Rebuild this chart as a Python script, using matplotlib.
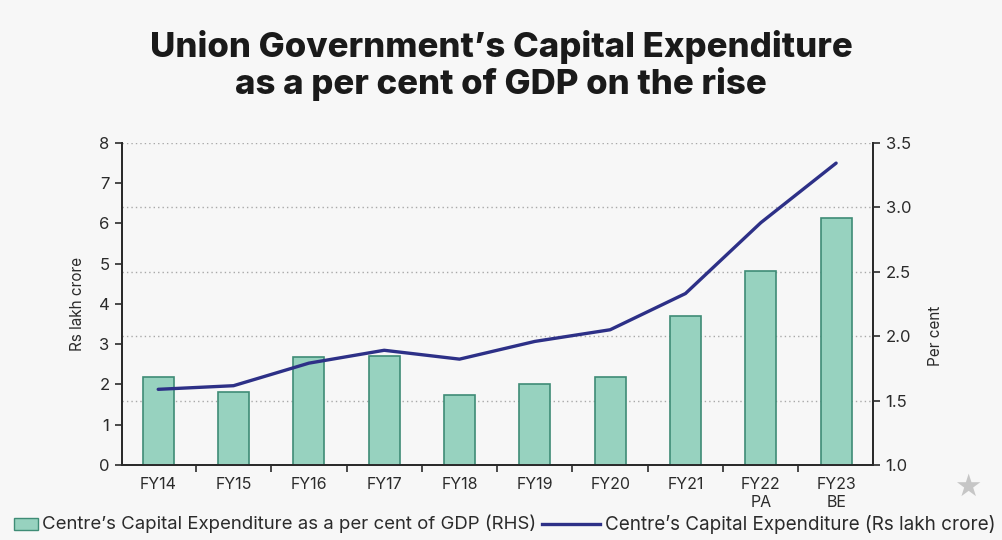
import matplotlib
matplotlib.use("Agg")
import matplotlib.pyplot as plt
from matplotlib.patches import Rectangle
from matplotlib.lines import Line2D
import numpy as np

# Financial years
years = ["FY14", "FY15", "FY16", "FY17", "FY18", "FY19", "FY20", "FY21", "FY22\nPA", "FY23\nBE"]
# Centre's capital expenditure as a per cent of GDP (RHS)
capex_pct_gdp = [1.68, 1.57, 1.84, 1.85, 1.54, 1.63, 1.68, 2.16, 2.51, 2.92]
# Centre's capital expenditure (Rs lakh crore)
capex_lakh_crore = [1.88, 1.97, 2.53, 2.85, 2.63, 3.07, 3.36, 4.26, 6.02, 7.50]

left_ticks = [0, 1, 2, 3, 4, 5, 6, 7, 8]
right_ticks = [1.0, 1.5, 2.0, 2.5, 3.0, 3.5]

BG = "#f7f7f7"
BAR_FILL = "#97d2bf"
BAR_EDGE = "#3f8c76"
LINE_COL = "#2d3087"
AXIS_COL = "#2b2b2b"
TEXT_COL = "#2b2b2b"
FONT = "Inter"

plt.rcParams["font.family"] = [FONT, "DejaVu Sans"]

fig = plt.figure(figsize=(10.02, 5.40), dpi=100, facecolor=BG)
ax = fig.add_axes([0.1218, 0.1389, 0.7495, 0.5963])
ax.set_facecolor(BG)
x = np.arange(len(years))

# Bars on the per-cent scale (right-hand axis)
ax.bar(x, capex_pct_gdp, width=0.41, bottom=0, color=BAR_FILL,
       edgecolor=BAR_EDGE, linewidth=1.2, zorder=3)
ax.set_ylim(1.0, 3.5)
ax.set_xlim(-0.48, len(years) - 0.51)
for yv in right_ticks[1:]:
    ax.axhline(yv, color="#a9a9a9", linestyle=(0, (1, 2.2)), linewidth=1.0, zorder=1)

# Line on the Rs lakh crore scale (left-hand axis)
ax2 = ax.twinx()
ax2.plot(x, capex_lakh_crore, color=LINE_COL, linewidth=2.4, zorder=4,
         solid_capstyle="round", solid_joinstyle="round")
ax2.set_ylim(0, 8)

# Swap sides: per cent on the right, Rs lakh crore on the left
ax.yaxis.tick_right()
ax.yaxis.set_label_position("right")
ax.set_yticks(right_ticks)
ax.set_yticklabels([f"{v:.1f}" for v in right_ticks])
ax2.yaxis.tick_left()
ax2.yaxis.set_label_position("left")
ax2.set_yticks(left_ticks)

# x axis: labels at category centres, ticks between categories
ax.set_xticks(x)
ax.set_xticklabels(years, fontsize=11.5, color=TEXT_COL, linespacing=1.2)
ax.set_xticks(np.arange(len(years) - 1) + 0.5, minor=True)
ax.tick_params(axis="x", which="major", length=0, pad=9)
ax.tick_params(axis="x", which="minor", length=5, width=1.2, color=AXIS_COL, direction="out")

for a in (ax, ax2):
    a.spines["top"].set_visible(False)
    for s in ("left", "right", "bottom"):
        a.spines[s].set_color(AXIS_COL)
        a.spines[s].set_linewidth(1.4)
    a.tick_params(axis="y", length=5, width=1.2, color=AXIS_COL, labelsize=12,
                  labelcolor=TEXT_COL, pad=4)

ax2.set_ylabel("Rs lakh crore", fontsize=11, color=TEXT_COL, labelpad=10)
ax.set_ylabel("Per cent", fontsize=11, color=TEXT_COL)
ax.yaxis.set_label_coords(1.073, 0.40)

# Title
fig.text(0.5, 0.913, "Union Government\u2019s Capital Expenditure",
         ha="center", va="center", fontsize=25, fontweight="heavy", color="#1a1a1a")
fig.text(0.5, 0.845, "as a per cent of GDP on the rise",
         ha="center", va="center", fontsize=25, fontweight="heavy", color="#1a1a1a")

# Legend along the bottom
W, H = 1002.0, 540.0
fig.patches.append(Rectangle((14 / W, 1 - 530 / H), 24 / W, 12 / H, transform=fig.transFigure,
                             facecolor=BAR_FILL, edgecolor=BAR_EDGE, linewidth=1.0))
fig.text(42 / W, 1 - 524 / H, "Centre\u2019s Capital Expenditure as a per cent of GDP (RHS)",
         ha="left", va="center", fontsize=13.4, color=TEXT_COL)
fig.lines.append(Line2D([542 / W, 600 / W], [1 - 524 / H, 1 - 524 / H], transform=fig.transFigure,
                        color=LINE_COL, linewidth=2.4))
fig.text(605 / W, 1 - 524 / H, "Centre\u2019s Capital Expenditure (Rs lakh crore)",
         ha="left", va="center", fontsize=13.6, color=TEXT_COL)

# Star icon, bottom right
fig.text(968 / W, 1 - 487 / H, "\u2605", ha="center", va="center", fontsize=22,
         color="#c6c6c6", family="DejaVu Sans")

fig.savefig("out.png", dpi=100, facecolor=BG)
